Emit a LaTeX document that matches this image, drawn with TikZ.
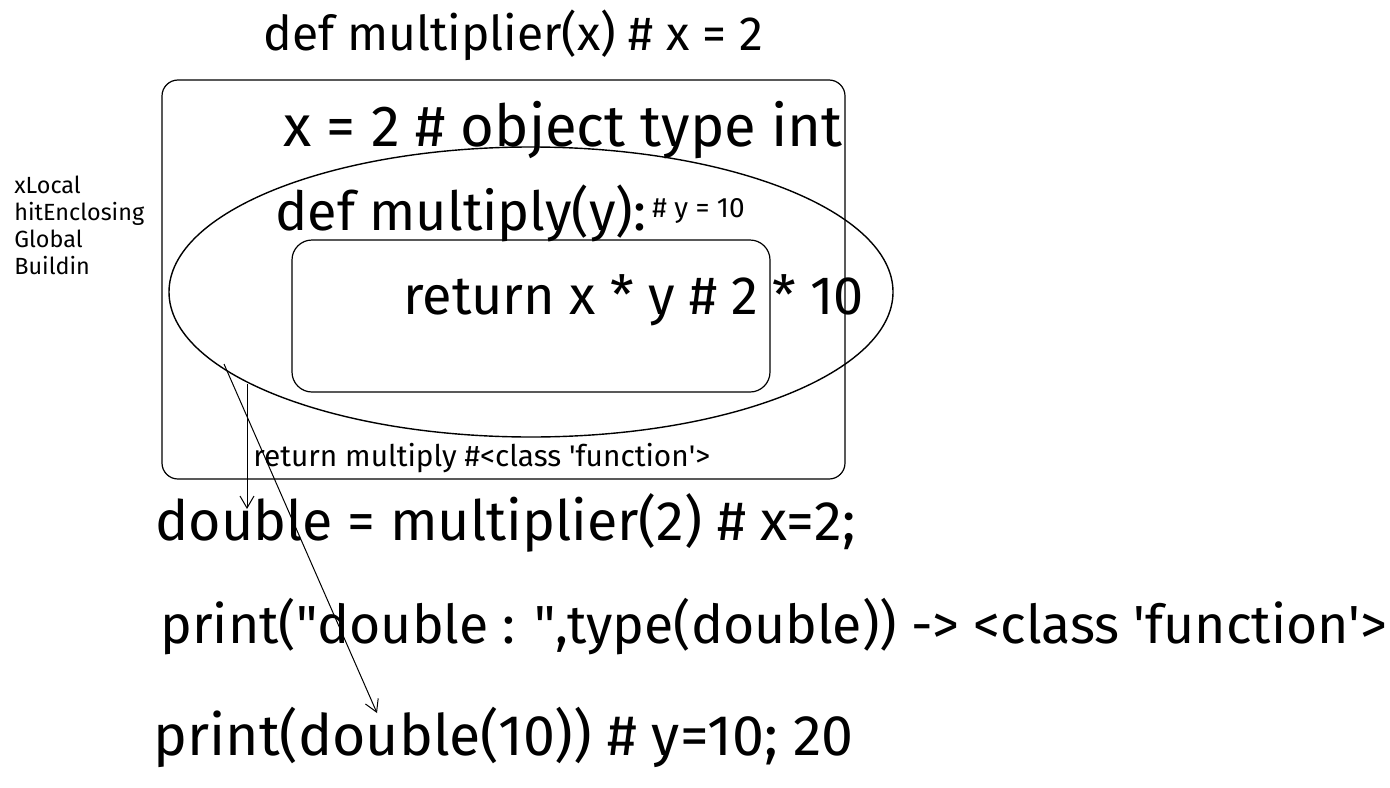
\documentclass[tikz,border=0pt]{standalone}
\usepackage{fontspec}
\setmainfont{Fira Sans}
\usetikzlibrary{arrows.meta}
\tikzset{
        x=0.5pt, y=-0.5pt,
        code/.style={font=\fontsize{#1}{#1}\selectfont, inner sep=0pt, anchor=west},
        scopebox/.style={draw=black, line width=0.6pt, rounded corners=8pt},
        scopering/.style={draw=black, line width=0.7pt},
        flow/.style={draw=black, line width=0.5pt, -{Straight Barb[length=6pt, width=7pt]}}
          }
\newcommand{\dq}{\textquotedbl}
\newcommand{\sq}{\textquotesingle}
\begin{document}
\begin{tikzpicture}
        \useasboundingbox (0,0) rectangle (1390,787);
        % scopes
        \draw[scopebox] (162,80) rectangle (845,479);
        \draw[scopering] (531,292) ellipse [x radius=362, y radius=145];
        \draw[scopebox, rounded corners=10pt] (292,240) rectangle (770,392);
        % texts
        \node[code=24] (title) at (263,35) {def multiplier(x) \# x = 2};
        \node[code=29] (xdef) at (283,130) {x = 2 \# object type int};
        \node[code=27] (inner) at (275,213) {def multiply(y):};
        \node[code=14] (ynote) at (652,211) {\# y = 10};
        \node[code=27] (ret) at (403,300) {return x * y \# 2 * 10};
        \node[code=14.9] (retf) at (253,458) {return multiply \#<class \sq function\sq>};
        \node[code=27.8] (call) at (155,523) {double = multiplier(2) \# x=2;};
        \node[code=26.8] (show) at (160,627) {print(\dq double : \dq,type(double)) -> <class \sq function\sq>};
        \node[code=28.6] (use) at (153,737) {print(double(10)) \# y=10; 20};
        \node[align=left, anchor=north west, inner sep=0pt,
          font=\fontsize{11.7}{13.5}\selectfont] (legb) at (14,176)
          {xLocal\\hitEnclosing\\Global\\Buildin};
        % connectors
        \coordinate (a1) at (247,384);
        \coordinate (a2) at (247,509);
        \coordinate (b1) at (224,364);
        \coordinate (b2) at (377,713);
        \draw[flow] (a1) -- (a2);
        \draw[flow] (b1) -- (b2);
\end{tikzpicture}
\end{document}
